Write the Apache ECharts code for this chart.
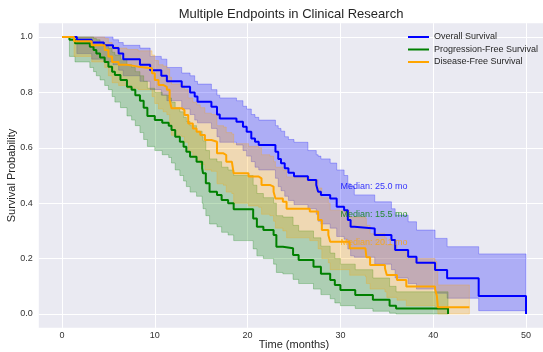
<!DOCTYPE html>
<html>
<head>
<meta charset="utf-8">
<script src="https://cdn.jsdelivr.net/npm/echarts@6/dist/echarts.min.js"></script>
<style>
  html, body { margin: 0; padding: 0; background: #fff; }
  #chart { width: 543px; height: 352px; }
</style>
</head>
<body>
<div id="chart"></div>
<script>
// Overall Survival (Kaplan-Meier steps + 95% CI)
var osTime  = [0, 1.6, 3.2, 4.5, 5.5, 6.1, 6.6, 8.4, 9.5, 10.7, 11.3, 12.9, 13.8, 14.3, 14.6, 16.1, 16.7, 17.0, 18.8, 19.5,
               19.9, 20.4, 20.8, 21.2, 23.0, 23.3, 23.6, 24.0, 24.4, 25.0, 26.5, 27.4, 27.6, 27.9, 28.9, 29.6, 30.4, 30.8, 31.1, 31.5,
               33.7, 35.5, 35.9, 37.3, 38.2, 40.2, 41.5, 44.9, 50.0];
var osSurv  = [1, 0.99, 0.98, 0.97, 0.96, 0.94, 0.92, 0.90, 0.88, 0.86, 0.84, 0.82, 0.80, 0.785, 0.766, 0.748, 0.72, 0.706, 0.694, 0.676,
               0.658, 0.634, 0.622, 0.61, 0.586, 0.56, 0.544, 0.526, 0.51, 0.497, 0.484, 0.466, 0.441, 0.43, 0.417, 0.387, 0.375, 0.339, 0.315, 0.309,
               0.285, 0.267, 0.231, 0.207, 0.185, 0.159, 0.129, 0.065, 0];
var osUpper = [1, 1, 1, 1, 0.99, 0.98, 0.97, 0.96, 0.93, 0.92, 0.89, 0.87, 0.86, 0.84, 0.83, 0.81, 0.79, 0.78, 0.77, 0.75,
               0.74, 0.72, 0.71, 0.70, 0.68, 0.67, 0.66, 0.64, 0.63, 0.62, 0.59, 0.575, 0.57, 0.56, 0.545, 0.52, 0.50, 0.47, 0.46, 0.43,
               0.405, 0.38, 0.357, 0.333, 0.303, 0.273, 0.243, 0.217, 0.217];
var osLower = [1, 0.94, 0.92, 0.91, 0.90, 0.88, 0.86, 0.84, 0.81, 0.79, 0.77, 0.74, 0.72, 0.70, 0.69, 0.67, 0.64, 0.62, 0.61, 0.59,
               0.57, 0.55, 0.53, 0.52, 0.49, 0.46, 0.445, 0.425, 0.41, 0.395, 0.38, 0.36, 0.335, 0.325, 0.31, 0.28, 0.27, 0.235, 0.21, 0.205,
               0.18, 0.16, 0.13, 0.11, 0.09, 0.075, 0.057, 0.012, 0.012];

// Progression-Free Survival
var pfsTime  = [0, 0.8, 1.4, 3.0, 3.4, 3.7, 4.1, 4.6, 5.0, 5.4, 5.7, 6.3, 7.0, 7.5, 7.9, 8.4, 8.8, 9.2, 10.0, 10.8,
                11.5, 11.8, 12.2, 12.7, 13.1, 13.4, 13.8, 14.5, 15.1, 15.2, 15.5, 15.9, 16.7, 17.2, 17.9, 18.5, 20.6, 21.0, 21.7, 22.8,
                23.1, 23.8, 24.9, 25.5, 27.1, 27.9, 28.9, 29.4, 30.0, 31.6, 33.5, 35.3, 36.0, 41.6];
var pfsSurv  = [1, 0.99, 0.977, 0.965, 0.953, 0.94, 0.926, 0.91, 0.893, 0.875, 0.863, 0.845, 0.82, 0.81, 0.79, 0.77, 0.745, 0.715, 0.70, 0.69,
                0.68, 0.664, 0.64, 0.622, 0.604, 0.586, 0.568, 0.55, 0.526, 0.508, 0.472, 0.441, 0.43, 0.412, 0.40, 0.378, 0.345, 0.315, 0.303, 0.285,
                0.243, 0.237, 0.213, 0.195, 0.171, 0.145, 0.123, 0.105, 0.087, 0.069, 0.051, 0.03, 0.02, 0];
var pfsUpper = [1, 1, 1, 1, 0.995, 0.99, 0.98, 0.97, 0.96, 0.945, 0.935, 0.92, 0.90, 0.89, 0.875, 0.86, 0.84, 0.815, 0.80, 0.79,
                0.78, 0.765, 0.745, 0.73, 0.71, 0.695, 0.68, 0.66, 0.64, 0.625, 0.59, 0.56, 0.55, 0.53, 0.52, 0.50, 0.465, 0.435, 0.42, 0.40,
                0.355, 0.35, 0.32, 0.30, 0.275, 0.245, 0.22, 0.2, 0.18, 0.16, 0.13, 0.10, 0.08, 0.08];
var pfsLower = [1, 0.93, 0.91, 0.89, 0.875, 0.86, 0.845, 0.825, 0.81, 0.785, 0.765, 0.745, 0.715, 0.70, 0.68, 0.655, 0.63, 0.605, 0.59, 0.575,
                0.565, 0.545, 0.52, 0.50, 0.48, 0.46, 0.44, 0.425, 0.40, 0.38, 0.355, 0.325, 0.315, 0.295, 0.285, 0.265, 0.235, 0.21, 0.20, 0.18,
                0.15, 0.145, 0.125, 0.11, 0.09, 0.07, 0.055, 0.04, 0.03, 0.02, 0.01, 0.003, 0, 0];

// Disease-Free Survival
var dfsTime  = [0, 1.3, 3.2, 4.6, 5.0, 5.4, 6.1, 7.0, 8.2, 9.7, 10.0, 10.4, 10.9, 11.3, 11.6, 11.8, 12.9, 13.2, 13.6, 14.1,
                14.5, 14.9, 15.4, 16.1, 16.7, 17.4, 17.7, 18.3, 18.5, 20.1, 21.2, 21.5, 22.4, 22.8, 23.0, 23.8, 24.2, 26.7, 27.6, 28.0,
                28.7, 28.9, 31.0, 32.7, 32.8, 33.2, 34.8, 35.0, 36.1, 37.1, 40.2, 40.4, 40.5, 43.9];
var dfsSurv  = [1, 0.985, 0.97, 0.953, 0.93, 0.91, 0.90, 0.893, 0.887, 0.869, 0.845, 0.827, 0.82, 0.81, 0.773, 0.743, 0.736, 0.718, 0.688, 0.67,
                0.658, 0.646, 0.628, 0.622, 0.58, 0.574, 0.55, 0.544, 0.508, 0.496, 0.49, 0.466, 0.46, 0.441, 0.417, 0.405, 0.38, 0.37, 0.339, 0.303,
                0.285, 0.261, 0.237, 0.231, 0.205, 0.177, 0.165, 0.141, 0.123, 0.099, 0.09, 0.065, 0.024, 0.024];
var dfsUpper = [1, 1, 1, 0.995, 0.98, 0.965, 0.96, 0.955, 0.95, 0.935, 0.915, 0.9, 0.895, 0.885, 0.855, 0.83, 0.825, 0.81, 0.78, 0.765,
                0.755, 0.745, 0.725, 0.72, 0.68, 0.675, 0.655, 0.65, 0.615, 0.605, 0.60, 0.575, 0.57, 0.55, 0.53, 0.52, 0.495, 0.485, 0.455, 0.42,
                0.40, 0.375, 0.35, 0.345, 0.32, 0.29, 0.275, 0.25, 0.23, 0.2, 0.19, 0.16, 0.105, 0.105];
var dfsLower = [1, 0.93, 0.91, 0.89, 0.86, 0.835, 0.825, 0.815, 0.81, 0.785, 0.76, 0.74, 0.73, 0.72, 0.68, 0.645, 0.64, 0.62, 0.585, 0.565,
                0.555, 0.54, 0.52, 0.515, 0.47, 0.465, 0.44, 0.435, 0.4, 0.39, 0.385, 0.36, 0.355, 0.335, 0.31, 0.3, 0.275, 0.265, 0.235, 0.2,
                0.185, 0.16, 0.14, 0.135, 0.11, 0.09, 0.08, 0.06, 0.05, 0.03, 0.027, 0.015, 0, 0];

var names   = ['Overall Survival', 'Progression-Free Survival', 'Disease-Free Survival'];
var medians = [25.0, 15.5, 20.1];
var medianLabelX = [30, 30, 30];
var medianLabelY = [0.45, 0.35, 0.25];
var xTicks = [0, 10, 20, 30, 40, 50];
var yTicks = [0, 0.2, 0.4, 0.6, 0.8, 1.0];

var lineColors = ['#0000ff', '#008000', '#ffa500'];
var bandColors = ['rgba(0,0,255,0.26)', 'rgba(0,128,0,0.26)', 'rgba(255,165,0,0.26)'];

function pairs(t, v) {
    return t.map(function (x, i) { return [x, v[i]]; });
}

// confidence band as one stepped polygon, built with api.coord
function bandSeries(idx, t, lo, hi) {
    return {
        type: 'custom', silent: true, clip: true, z: 2,
        data: t.map(function (x, i) { return [x, lo[i], hi[i]]; }),
        encode: { x: 0, y: [1, 2] },
        renderItem: function (params, api) {
            if (params.dataIndex !== 0) return null;
            var top = [], bot = [];
            for (var i = 0; i < t.length; i++) {
                var x0 = t[i], x1 = i < t.length - 1 ? t[i + 1] : t[i];
                top.push(api.coord([x0, hi[i]]), api.coord([x1, hi[i]]));
                bot.push(api.coord([x0, lo[i]]), api.coord([x1, lo[i]]));
            }
            return {
                type: 'polygon',
                shape: { points: top.concat(bot.reverse()) },
                style: { fill: bandColors[idx], stroke: bandColors[idx], lineWidth: 1 }
            };
        }
    };
}

function lineSeries(idx, t, s) {
    return {
        name: names[idx], type: 'line', step: 'end', symbol: 'none', z: 3,
        data: pairs(t, s),
        lineStyle: { width: 2, color: lineColors[idx] },
        itemStyle: { color: lineColors[idx] }
    };
}

var series = [
    bandSeries(0, osTime, osLower, osUpper), lineSeries(0, osTime, osSurv),
    bandSeries(1, pfsTime, pfsLower, pfsUpper), lineSeries(1, pfsTime, pfsSurv),
    bandSeries(2, dfsTime, dfsLower, dfsUpper), lineSeries(2, dfsTime, dfsSurv)
];

// median annotations
series.push({
    type: 'scatter', symbolSize: 0, silent: true, z: 10,
    data: medians.map(function (m, i) {
        return {
            value: [medianLabelX[i], medianLabelY[i]],
            label: {
                show: true, position: [0, 2], align: 'left', verticalAlign: 'bottom',
                formatter: 'Median: ' + m.toFixed(1) + ' mo',
                color: lineColors[i], fontSize: 9, fontFamily: 'Liberation Sans'
            }
        };
    })
});

var chart = echarts.init(document.getElementById('chart'));
var option = {
    animation: false,
    backgroundColor: '#fff',
    textStyle: { fontFamily: 'Liberation Sans' },
    title: {
        text: 'Multiple Endpoints in Clinical Research',
        left: 286, top: 3, textAlign: 'center',
        textStyle: { fontSize: 13, fontWeight: 'normal', color: '#262626', fontFamily: 'Liberation Sans' }
    },
    legend: {
        data: names,
        orient: 'vertical',
        left: 408, top: 30.75, padding: 0,
        itemWidth: 21, itemHeight: 2, itemGap: 0,
        icon: 'rect',
        textStyle: { fontSize: 9, color: '#262626', lineHeight: 12.5, fontFamily: 'Liberation Sans' }
    },
    grid: {
        left: 38.8, top: 23.15, width: 510.4, height: 304.7,
        outerBoundsMode: 'none', containLabel: false,
        show: true, backgroundColor: '#EAEAF2', borderWidth: 0
    },
    xAxis: {
        type: 'value', min: -2.5, max: 52.5,
        name: 'Time (months)', nameLocation: 'middle', nameGap: 12, nameMoveOverlap: false,
        nameTextStyle: { fontSize: 11, color: '#262626' },
        axisLine: { show: false },
        axisTick: { show: false, customValues: xTicks },
        axisLabel: { customValues: xTicks, fontSize: 9, color: '#333', margin: 3 },
        splitLine: { show: true, lineStyle: { color: '#fff', width: 1 } }
    },
    yAxis: {
        type: 'value', min: -0.05, max: 1.05,
        name: 'Survival Probability', nameLocation: 'middle', nameGap: 21, nameMoveOverlap: false,
        nameTextStyle: { fontSize: 11, color: '#262626' },
        axisLine: { show: false },
        axisTick: { show: false, customValues: yTicks },
        axisLabel: {
            customValues: yTicks, fontSize: 9, color: '#333', margin: 6,
            formatter: function (v) { return v.toFixed(1); }
        },
        splitLine: { show: true, lineStyle: { color: '#fff', width: 1 } }
    },
    series: series
};
chart.setOption(option);
</script>
</body>
</html>
